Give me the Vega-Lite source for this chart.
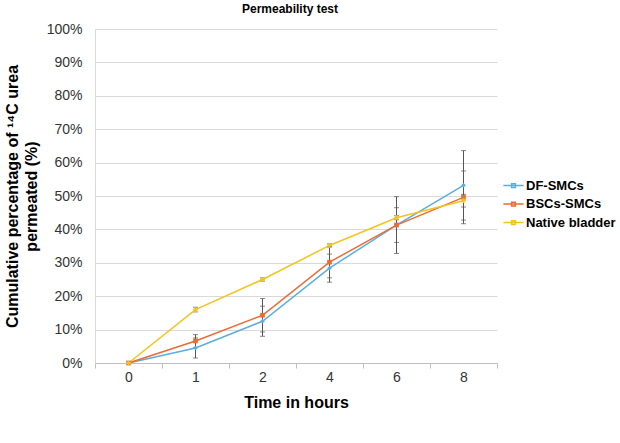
{
  "$schema": "https://vega.github.io/schema/vega-lite/v6.json",
  "width": 402,
  "height": 334,
  "autosize": "none",
  "padding": {"left": 95, "top": 29, "right": 123, "bottom": 80},
  "background": "white",
  "title": {"text": "Permeability test", "fontSize": 12, "font": "Liberation Sans", "fontWeight": "bold", "color": "#000000", "offset": 6, "dx": -6},
  "config": {
    "view": {"stroke": null},
    "font": "Liberation Sans"
  },
  "resolve": {"legend": {"color": "independent", "shape": "independent"}},
  "data": {
    "values": [
      {"series": "DF-SMCs", "time": "0", "value": 0, "lo": null, "hi": null},
      {"series": "DF-SMCs", "time": "1", "value": 4.5, "lo": 1.5, "hi": 7.5},
      {"series": "DF-SMCs", "time": "2", "value": 12.5, "lo": 8.0, "hi": 17.0},
      {"series": "DF-SMCs", "time": "4", "value": 28.4, "lo": 24.2, "hi": 32.6},
      {"series": "DF-SMCs", "time": "6", "value": 41.3, "lo": 36.1, "hi": 46.5},
      {"series": "DF-SMCs", "time": "8", "value": 53.2, "lo": 42.8, "hi": 63.6},
      {"series": "BSCs-SMCs", "time": "0", "value": 0, "lo": null, "hi": null},
      {"series": "BSCs-SMCs", "time": "1", "value": 6.6, "lo": 4.7, "hi": 8.5},
      {"series": "BSCs-SMCs", "time": "2", "value": 14.3, "lo": 9.3, "hi": 19.3},
      {"series": "BSCs-SMCs", "time": "4", "value": 30.2, "lo": 25.5, "hi": 34.9},
      {"series": "BSCs-SMCs", "time": "6", "value": 41.3, "lo": 32.8, "hi": 49.8},
      {"series": "BSCs-SMCs", "time": "8", "value": 49.6, "lo": 41.7, "hi": 57.5},
      {"series": "Native bladder", "time": "0", "value": 0, "lo": null, "hi": null},
      {"series": "Native bladder", "time": "1", "value": 16.0, "lo": 15.3, "hi": 16.7},
      {"series": "Native bladder", "time": "2", "value": 25.0, "lo": 24.5, "hi": 25.5},
      {"series": "Native bladder", "time": "4", "value": 35.2, "lo": 34.7, "hi": 35.7},
      {"series": "Native bladder", "time": "6", "value": 43.5, "lo": 42.9, "hi": 44.1},
      {"series": "Native bladder", "time": "8", "value": 48.6, "lo": 46.7, "hi": 50.5}
    ]
  },
  "encoding": {
    "x": {
      "field": "time",
      "type": "ordinal",
      "sort": ["0", "1", "2", "4", "6", "8"],
      "scale": {"paddingInner": 0, "paddingOuter": 0},
      "axis": {
        "title": "Time in hours",
        "titleFont": "Liberation Sans",
        "titleFontSize": 16,
        "titleFontWeight": "bold",
        "titleColor": "#000000",
        "titlePadding": 10,
        "labelAngle": 0,
        "labelFontSize": 14,
        "labelColor": "#333333",
        "labelPadding": 2,
        "tickBand": "extent",
        "ticks": true,
        "tickSize": 5,
        "tickColor": "#bfbfbf",
        "domainColor": "#bfbfbf",
        "grid": false
      }
    },
    "y": {
      "type": "quantitative",
      "scale": {"domain": [0, 100], "nice": false},
      "axis": {
        "title": ["Cumulative percentage of ¹⁴C urea", "permeated (%)"],
        "titleFont": "Liberation Sans",
        "titleFontSize": 16,
        "titleFontWeight": "bold",
        "titleColor": "#000000",
        "titleLineHeight": 19,
        "titlePadding": 7,
        "values": [0, 10, 20, 30, 40, 50, 60, 70, 80, 90, 100],
        "labelExpr": "datum.value + '%'",
        "labelFontSize": 14,
        "labelColor": "#333333",
        "labelPadding": 13,
        "ticks": false,
        "grid": true,
        "gridColor": "#d9d9d9",
        "domainColor": "#d9d9d9"
      }
    }
  },
  "layer": [
    {
      "mark": {"type": "rule", "color": "#555555", "strokeWidth": 1},
      "encoding": {
        "y": {"field": "lo"},
        "y2": {"field": "hi"}
      }
    },
    {
      "mark": {"type": "tick", "color": "#555555", "orient": "horizontal", "size": 5, "thickness": 1},
      "encoding": {"y": {"field": "lo"}}
    },
    {
      "mark": {"type": "tick", "color": "#555555", "orient": "horizontal", "size": 5, "thickness": 1},
      "encoding": {"y": {"field": "hi"}}
    },
    {
      "mark": {"type": "line", "strokeWidth": 1.5},
      "encoding": {
        "y": {"field": "value"},
        "color": {
          "field": "series",
          "type": "nominal",
          "sort": ["DF-SMCs", "BSCs-SMCs", "Native bladder"],
          "scale": {"domain": ["DF-SMCs", "BSCs-SMCs", "Native bladder"], "range": ["#5AAEE0", "#EB6B35", "#F5C31C"]},
          "legend": {
            "title": null,
            "orient": "none",
            "legendX": 410,
            "legendY": 148,
            "symbolType": "M-1.35,0L1.35,0M-0.25,-0.25L0.25,-0.25L0.25,0.25L-0.25,0.25Z",
            "symbolSize": 225,
            "symbolStrokeWidth": 1.5,
            "labelFont": "Liberation Sans",
            "labelFontSize": 13,
            "labelFontWeight": "bold",
            "labelColor": "#000000",
            "labelOffset": 4,
            "rowPadding": 2.5
          }
        }
      }
    },
    {
      "mark": {"type": "point", "filled": true, "size": 22, "opacity": 1},
      "encoding": {
        "y": {"field": "value"},
        "color": {"field": "series", "type": "nominal", "legend": null},
        "shape": {
          "field": "series",
          "type": "nominal",
          "scale": {"domain": ["DF-SMCs", "BSCs-SMCs", "Native bladder"], "range": ["diamond", "square", "cross"]},
          "legend": null
        }
      }
    }
  ]
}
